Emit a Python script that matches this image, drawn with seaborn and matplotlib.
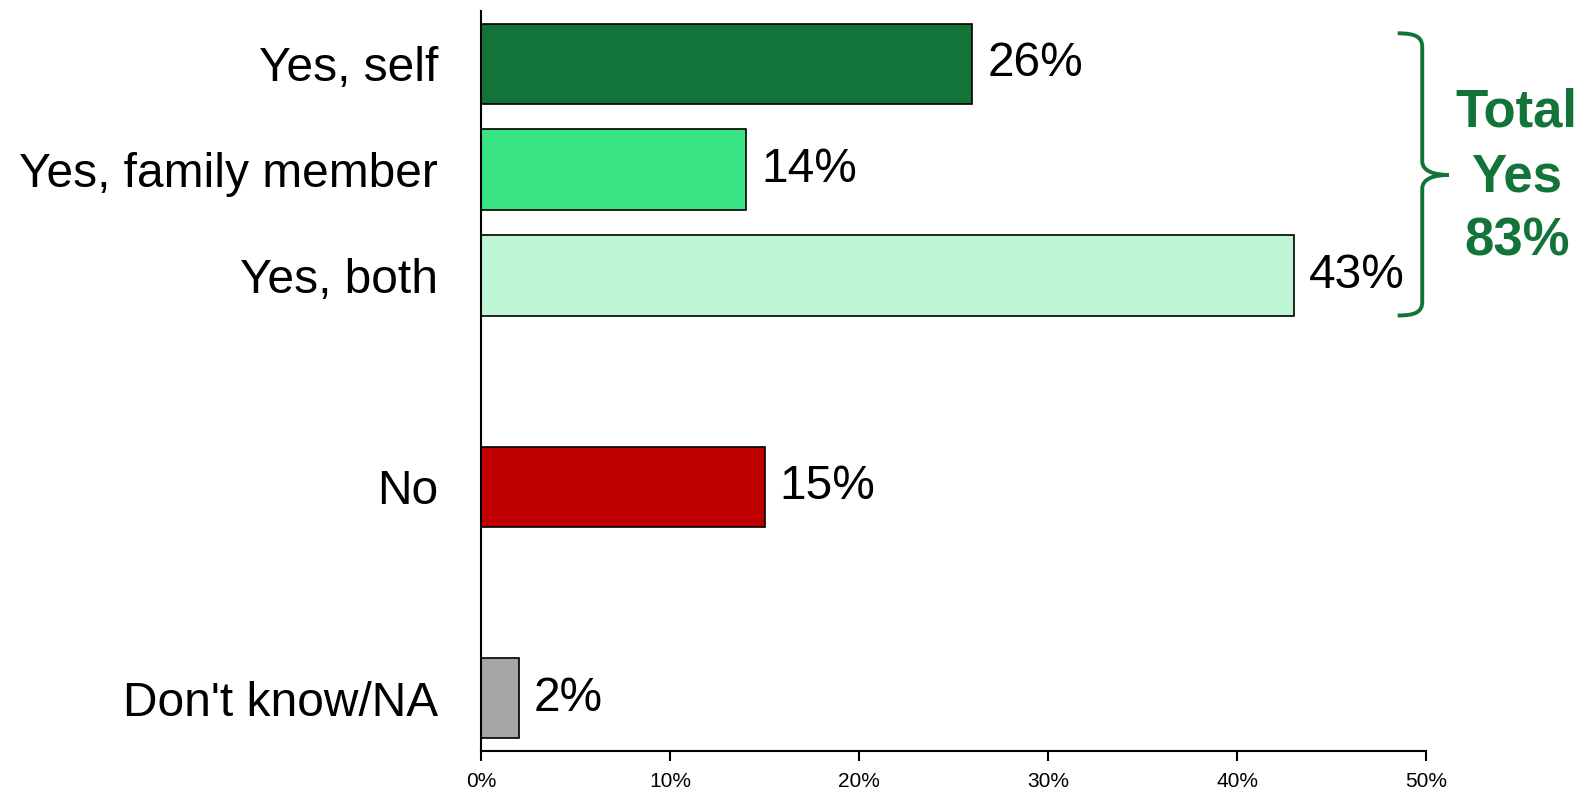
import matplotlib
matplotlib.use("Agg")
import matplotlib.pyplot as plt
from matplotlib.path import Path
from matplotlib.patches import PathPatch
from matplotlib.ticker import FuncFormatter
import seaborn as sns
import pandas as pd

categories = ["Yes, self", "Yes, family member", "Yes, both", "No", "Don't know/NA"]
values = [26, 14, 43, 15, 2]
positions = [0, 1, 2, 4, 6]
colors = ["#127438", "#38E383", "#BDF5D5", "#C00000", "#A6A6A6"]
value_labels = ["26%", "14%", "43%", "15%", "2%"]
x_ticks = [0, 10, 20, 30, 40, 50]
total_label = "Total\nYes\n83%"

sns.set_theme(style="white")
plt.rcParams["font.family"] = ["Liberation Sans", "DejaVu Sans"]

df = pd.DataFrame({"cat": categories, "val": values, "pos": positions})

fig = plt.figure(figsize=(15.85, 7.93), dpi=100)
ax = fig.add_axes([0.3035, 0.053, 0.5962, 0.933])

sns.barplot(data=df, x="val", y="pos", hue="cat", palette=colors, orient="h",
            native_scale=True, width=0.76, legend=False, edgecolor="black",
            linewidth=1.2, ax=ax, dodge=False, saturation=1)

for cont, lab in zip(ax.containers, value_labels):
    ax.bar_label(cont, labels=[lab], padding=11, fontsize=34.5, color="black")

ax.set_xlim(0, 50)
ax.set_ylim(6.5, -0.5)
ax.set_xticks(x_ticks)
ax.xaxis.set_major_formatter(FuncFormatter(lambda v, p: f"{int(v)}%"))
ax.set_yticks(positions)
ax.set_yticklabels(categories)
ax.tick_params(axis="y", length=0, pad=31, labelsize=34.5, colors="black")
ax.tick_params(axis="x", length=7, width=1.5, direction="out", labelsize=15,
               bottom=True, pad=8, colors="black")
ax.set_xlabel("")
ax.set_ylabel("")
for s in ["top", "right"]:
    ax.spines[s].set_visible(False)
for s in ["left", "bottom"]:
    ax.spines[s].set_color("black")
    ax.spines[s].set_linewidth(1.5)

# brace
green = "#127438"
xl, xv, xt = 48.5, 49.8, 51.2
y0, y1, ym, r = -0.29, 2.38, 1.05, 0.13
verts = [
    (xl, y0), (xl + 0.9, y0), (xv, y0 + 0.03), (xv, y0 + r),
    (xv, ym - r),
    (xv, ym - 0.03), (xt - 0.7, ym), (xt, ym),
    (xt - 0.7, ym), (xv, ym + 0.03), (xv, ym + r),
    (xv, y1 - r),
    (xv, y1 - 0.03), (xl + 0.9, y1), (xl, y1),
]
codes = [Path.MOVETO, Path.CURVE4, Path.CURVE4, Path.CURVE4,
         Path.LINETO,
         Path.CURVE4, Path.CURVE4, Path.CURVE4,
         Path.CURVE4, Path.CURVE4, Path.CURVE4,
         Path.LINETO,
         Path.CURVE4, Path.CURVE4, Path.CURVE4]
ax.add_patch(PathPatch(Path(verts, codes), facecolor="none", edgecolor=green,
                       linewidth=2.8, clip_on=False))
ax.text(54.8, 1.07, total_label, color=green, fontsize=38, fontweight="bold",
        ha="center", va="center", linespacing=1.38, clip_on=False)

fig.savefig("out.png", dpi=100)
